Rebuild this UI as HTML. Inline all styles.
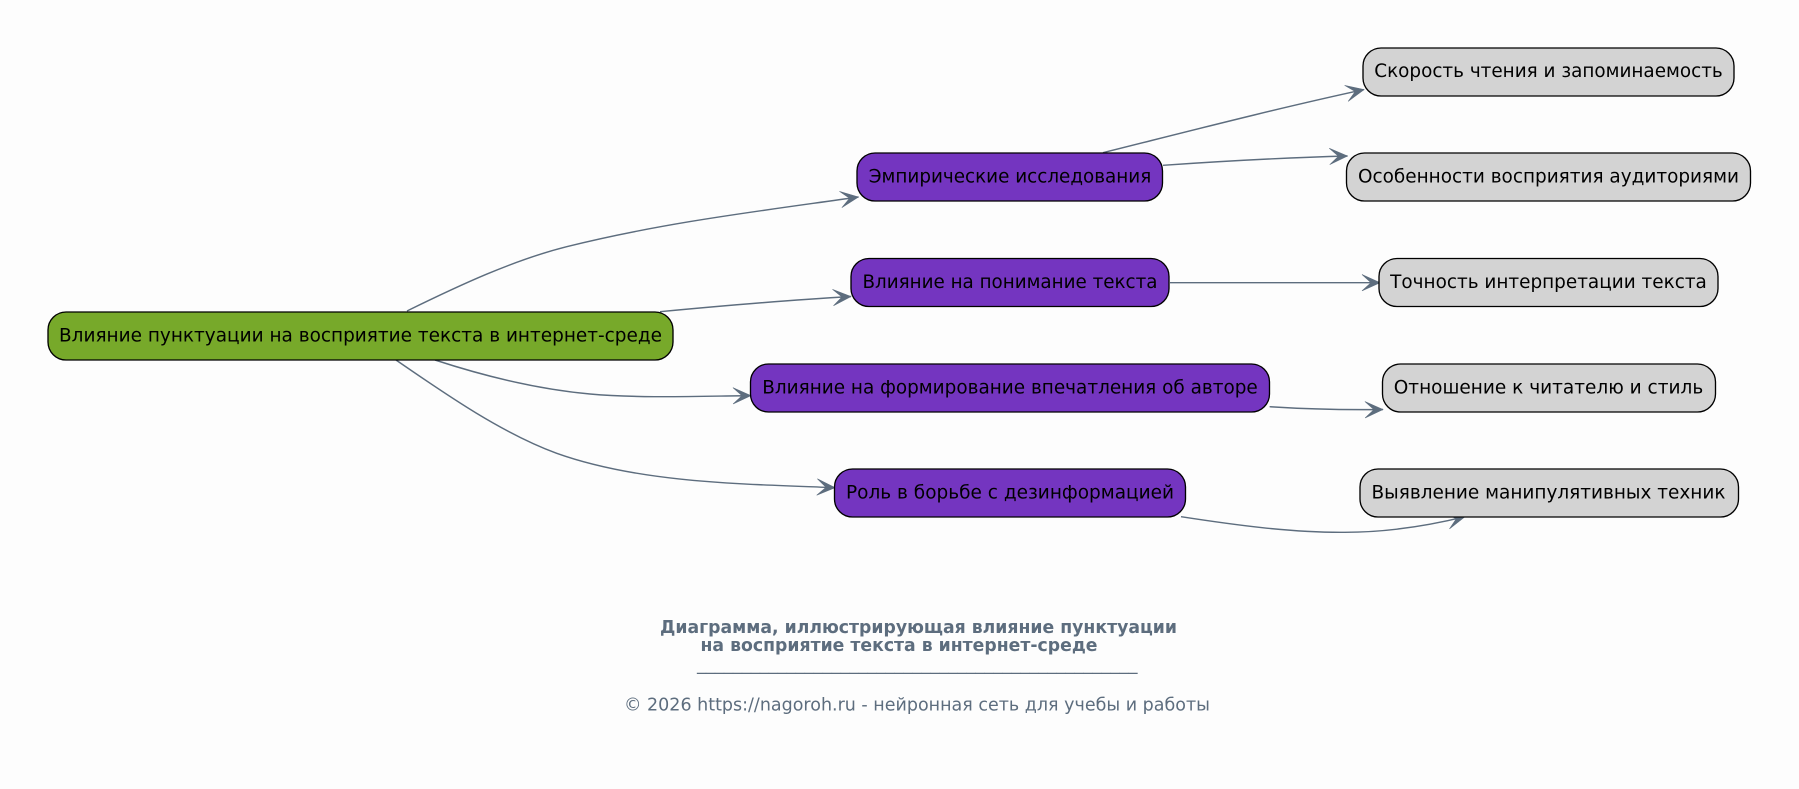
<!DOCTYPE html>
<html lang="ru">
<head>
<meta charset="utf-8">
<title>Диаграмма</title>
<style>
html,body{margin:0;padding:0;background:#fdfdfd;width:1799px;height:789px;overflow:hidden}
svg{display:block}
text{font-family:"DejaVu Sans","Liberation Sans",sans-serif}
.n{font-size:18.67px;fill:#000;text-anchor:middle}
.b{stroke:#000;stroke-width:1.33}
.e{fill:none;stroke:#5d6d7e;stroke-width:1.45;marker-end:url(#v)}
</style>
</head>
<body>
<svg width="1799" height="789" viewBox="0 0 1799 789" xmlns="http://www.w3.org/2000/svg">
<defs>
<marker id="v" markerUnits="userSpaceOnUse" markerWidth="24" markerHeight="20" refX="22" refY="10" orient="auto" overflow="visible">
<polygon points="22,10 4,1.8 13,10 4,18.2" fill="#5d6d7e" stroke="#5d6d7e" stroke-width="0.6"/>
</marker>
</defs>
<rect width="1799" height="789" fill="#fdfdfd"/>

<path class="e" d="M407,311 C460,285 513.7,260 566.700,246.700 C664,222.400 761,210.900 858.500,197"/>
<path class="e" d="M660,311.700 C720,306 790,300 851,296.500"/>
<path class="e" d="M435,360 C487,377 538,389.300 590,394 C640,398.500 700,396.200 751,395.600"/>
<path class="e" d="M396,360 C449.600,397 503,433.500 556.700,453.300 C640,483 742,484 835,487.700"/>
<path class="e" d="M1103,152.700 C1180,133.500 1270,110 1364,89.600"/>
<path class="e" d="M1163,165.300 C1225,161 1290,157.500 1347.500,156"/>
<path class="e" d="M1170,282.700 L1380,282.700"/>
<path class="e" d="M1269.600,406.700 C1305,409 1345,410 1383,409.500"/>
<path class="e" d="M1181,516.700 C1235,525 1290,532.500 1343,532.300 C1385,532.500 1425,526.500 1465,516.700"/>

<rect class="b" x="48" y="312" width="625" height="48" rx="18" fill="#77a92a"/>
<text class="n" x="360.500" y="341.500" textLength="603" lengthAdjust="spacingAndGlyphs">Влияние пунктуации на восприятие текста в интернет-среде</text>

<rect class="b" x="857" y="153" width="305.500" height="48" rx="18" fill="#7435c0"/>
<text class="n" x="1010" y="182.500" textLength="282.500" lengthAdjust="spacingAndGlyphs">Эмпирические исследования</text>
<rect class="b" x="851" y="258.500" width="318" height="48" rx="18" fill="#7435c0"/>
<text class="n" x="1010" y="288" textLength="295" lengthAdjust="spacingAndGlyphs">Влияние на понимание текста</text>
<rect class="b" x="750.500" y="364" width="519" height="48" rx="18" fill="#7435c0"/>
<text class="n" x="1010" y="393.500" textLength="495.500" lengthAdjust="spacingAndGlyphs">Влияние на формирование впечатления об авторе</text>
<rect class="b" x="834.500" y="469" width="351" height="48" rx="18" fill="#7435c0"/>
<text class="n" x="1010" y="498.500" textLength="328" lengthAdjust="spacingAndGlyphs">Роль в борьбе с дезинформацией</text>

<rect class="b" x="1363" y="48" width="371" height="48" rx="18" fill="#d3d3d3"/>
<text class="n" x="1548.500" y="77" textLength="348.500" lengthAdjust="spacingAndGlyphs">Скорость чтения и запоминаемость</text>
<rect class="b" x="1346.500" y="153" width="404" height="48" rx="18" fill="#d3d3d3"/>
<text class="n" x="1548.500" y="182.500" textLength="381" lengthAdjust="spacingAndGlyphs">Особенности восприятия аудиториями</text>
<rect class="b" x="1379" y="258.500" width="339" height="48" rx="18" fill="#d3d3d3"/>
<text class="n" x="1548.500" y="288" textLength="316.700" lengthAdjust="spacingAndGlyphs">Точность интерпретации текста</text>
<rect class="b" x="1382.500" y="364" width="333" height="48" rx="18" fill="#d3d3d3"/>
<text class="n" x="1548.500" y="393.500" textLength="309.500" lengthAdjust="spacingAndGlyphs">Отношение к читателю и стиль</text>
<rect class="b" x="1360" y="469" width="378.500" height="48" rx="18" fill="#d3d3d3"/>
<text class="n" x="1548.500" y="498.500" textLength="354" lengthAdjust="spacingAndGlyphs">Выявление манипулятивных техник</text>

<text x="918.500" y="633" font-size="17.33" font-weight="bold" fill="#5d6d7e" text-anchor="middle" textLength="517" lengthAdjust="spacingAndGlyphs">Диаграмма, иллюстрирующая влияние пунктуации</text>
<text x="899" y="651" font-size="17.33" font-weight="bold" fill="#5d6d7e" text-anchor="middle" textLength="397" lengthAdjust="spacingAndGlyphs">на восприятие текста в интернет-среде</text>
<text x="917.250" y="670" font-size="17.33" fill="#5d6d7e" text-anchor="middle" textLength="440.500" lengthAdjust="spacingAndGlyphs">_________________________________________________</text>
<text x="917" y="710.500" font-size="17.33" fill="#5d6d7e" text-anchor="middle" textLength="586" lengthAdjust="spacingAndGlyphs">© 2026 https://nagoroh.ru - нейронная сеть для учебы и работы</text>
</svg>
</body>
</html>
